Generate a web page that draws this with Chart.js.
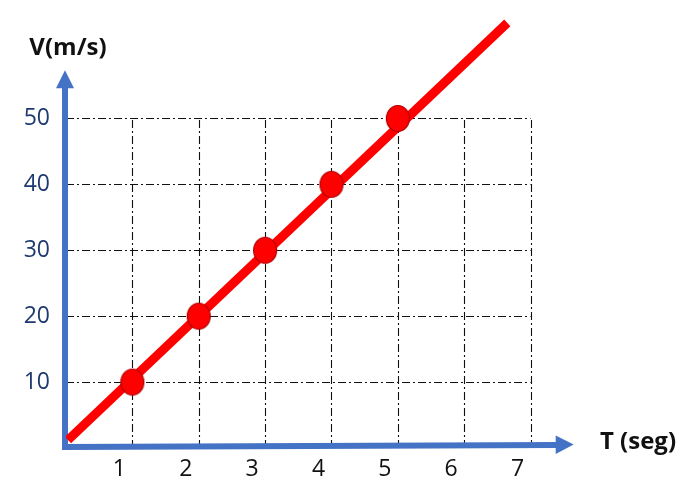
<!DOCTYPE html>
<html>
<head>
<meta charset="utf-8">
<script src="https://cdn.jsdelivr.net/npm/chart.js@4"></script>
<style>
  html, body { margin: 0; padding: 0; background: #fff; }
  #wrap { width: 685px; height: 488px; }
</style>
</head>
<body>
<div id="wrap"><canvas id="myChart" width="685" height="488"></canvas></div>
<script>
// values
const tiempo = [1, 2, 3, 4, 5];
const velocidad = [10, 20, 30, 40, 50];
const xTicks = [1, 2, 3, 4, 5, 6, 7];
const yTicks = [10, 20, 30, 40, 50];
// red line: starts near origin, runs off the top right
const lineaX = [0.03, 6.65];
const lineaY = [1.2, 64.5];

const blue = '#4472C4';

// ellipse marker (points look a little taller than wide)
const marker = document.createElement('canvas');
marker.width = 26;
marker.height = 29;
{
    const c = marker.getContext('2d');
    c.beginPath();
    c.ellipse(13, 14.5, 11.5, 13, 0, 0, Math.PI * 2);
    c.fillStyle = '#FF0000';
    c.fill();
    c.lineWidth = 1.2;
    c.strokeStyle = '#B00000';
    c.stroke();
}

const gridAndAxes = {
    id: 'gridAndAxes',
    beforeDatasetsDraw(chart) {
        const {ctx, scales: {x, y}} = chart;
        const x0 = x.getPixelForValue(0);
        const y0 = y.getPixelForValue(0);
        const xEnd = x.getPixelForValue(xTicks[xTicks.length - 1]);
        const yEnd = y.getPixelForValue(yTicks[yTicks.length - 1]);

        ctx.save();
        ctx.strokeStyle = '#111';
        ctx.lineWidth = 1.1;
        ctx.setLineDash([8, 3, 2, 3]);
        xTicks.forEach(v => {
            const px = Math.round(x.getPixelForValue(v)) + 0.5;
            ctx.beginPath();
            ctx.moveTo(px, y0);
            ctx.lineTo(px, yEnd);
            ctx.stroke();
        });
        yTicks.forEach(v => {
            const py = Math.round(y.getPixelForValue(v)) + 0.5;
            ctx.beginPath();
            ctx.moveTo(x0, py);
            ctx.lineTo(xEnd, py);
            ctx.stroke();
        });
        ctx.setLineDash([]);

        // blue arrows
        const ax = x0 - 1;
        const ay = y0 - 1;
        const xTip = x.getPixelForValue(7.65);
        const yTip = y.getPixelForValue(57.3);
        ctx.strokeStyle = blue;
        ctx.fillStyle = blue;
        ctx.lineWidth = 6;
        ctx.lineCap = 'butt';
        ctx.beginPath();
        ctx.moveTo(ax, ay + 3);
        ctx.lineTo(ax, yTip + 16);
        ctx.moveTo(ax - 3, ay);
        ctx.lineTo(xTip - 16, ay - 2);
        ctx.stroke();
        ctx.beginPath();
        ctx.moveTo(ax, yTip);
        ctx.lineTo(ax - 9, yTip + 18);
        ctx.lineTo(ax + 9, yTip + 18);
        ctx.closePath();
        ctx.fill();
        ctx.beginPath();
        ctx.moveTo(xTip, ay - 2.5);
        ctx.lineTo(xTip - 18, ay - 11.5);
        ctx.lineTo(xTip - 18, ay + 7);
        ctx.closePath();
        ctx.fill();

        // axis names
        ctx.fillStyle = '#111';
        ctx.font = 'bold 24px "Open Sans", sans-serif';
        ctx.textBaseline = 'middle';
        ctx.textAlign = 'center';
        ctx.fillText('V(m/s)', 68, 48);
        ctx.fillText('T (seg)', 638, 442);
        ctx.restore();
    }
};

new Chart(document.getElementById('myChart').getContext('2d'), {
    type: 'scatter',
    data: {
        datasets: [{
            label: 'linea',
            data: lineaX.map((v, i) => ({x: v, y: lineaY[i]})),
            showLine: true,
            borderColor: '#FF0000',
            borderWidth: 9,
            pointRadius: 0,
            order: 2
        }, {
            label: 'V',
            data: tiempo.map((v, i) => ({x: v, y: velocidad[i]})),
            pointStyle: marker,
            pointRadius: 12,
            order: 1
        }]
    },
    options: {
        responsive: false,
        animation: false,
        layout: {
            padding: {left: 0, right: 108, top: 10, bottom: 0}
        },
        plugins: {
            legend: {display: false},
            tooltip: {enabled: false}
        },
        scales: {
            x: {
                type: 'linear',
                min: 0,
                max: 7.7,
                grid: {display: false, drawTicks: false},
                border: {display: false},
                afterFit: s => { s.height = 40; s.paddingLeft = 0; s.paddingRight = 0; },
                afterBuildTicks: s => { s.ticks = xTicks.map(v => ({value: v})); },
                ticks: {
                    padding: 8,
                    labelOffset: -13,
                    color: '#111',
                    font: {family: '"Open Sans", sans-serif', size: 23}
                }
            },
            y: {
                type: 'linear',
                min: 0,
                max: 66,
                grid: {display: false, drawTicks: false},
                border: {display: false},
                afterFit: s => { s.width = 66; s.paddingTop = 0; s.paddingBottom = 0; },
                afterBuildTicks: s => { s.ticks = yTicks.map(v => ({value: v})); },
                ticks: {
                    padding: 16,
                    color: '#1F3A6E',
                    font: {family: '"Open Sans", sans-serif', size: 23}
                }
            }
        }
    },
    plugins: [gridAndAxes]
});
</script>
</body>
</html>
